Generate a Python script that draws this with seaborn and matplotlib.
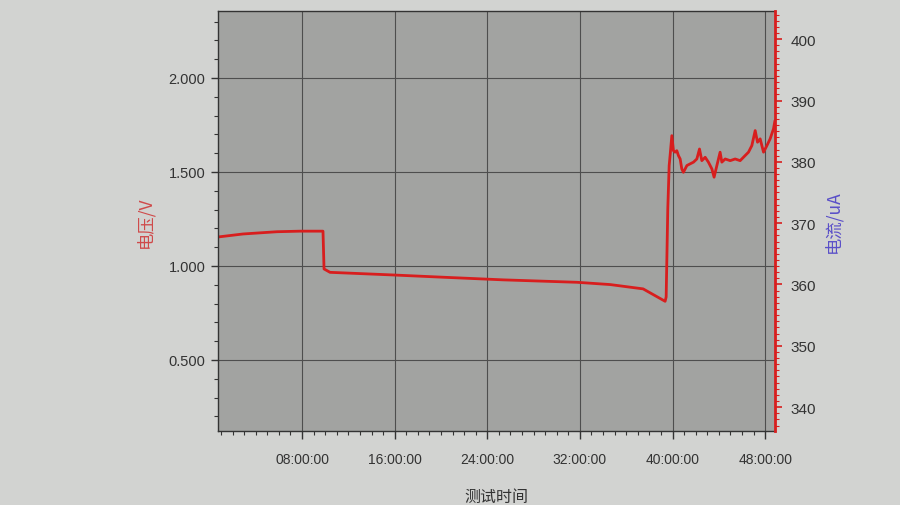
import matplotlib
matplotlib.use("Agg")
import matplotlib.pyplot as plt
from matplotlib.ticker import MultipleLocator, FuncFormatter
import seaborn as sns
import pandas as pd

# ---- data ----
hours = [0.74, 2.90, 5.84, 7.83, 9.81, 9.90, 10.42, 15.86, 20.18, 25.37, 31.76,
         34.61, 37.46, 39.36, 39.45, 39.59, 39.71, 39.79, 39.94, 40.08, 40.22,
         40.37, 40.51, 40.66, 40.80, 40.94, 41.24, 41.52, 41.81, 42.10, 42.33,
         42.53, 42.82, 43.10, 43.40, 43.59, 43.83, 44.11, 44.26, 44.55, 44.98,
         45.41, 45.84, 46.27, 46.56, 46.85, 47.14, 47.34, 47.57, 47.86, 48.15,
         48.43, 48.72, 48.85]
voltage = [1.154, 1.170, 1.182, 1.185, 1.185, 0.984, 0.966, 0.952, 0.940, 0.926, 0.913,
           0.901, 0.878, 0.812, 0.835, 1.303, 1.534, 1.587, 1.693, 1.613, 1.605,
           1.613, 1.587, 1.569, 1.516, 1.498, 1.534, 1.543, 1.552, 1.569, 1.622,
           1.560, 1.578, 1.552, 1.516, 1.472, 1.534, 1.605, 1.552, 1.569, 1.560,
           1.569, 1.560, 1.587, 1.605, 1.640, 1.720, 1.658, 1.676, 1.605, 1.640,
           1.676, 1.729, 1.773]
x_ticks = [8, 16, 24, 32, 40, 48]
left_ticks = [0.5, 1.0, 1.5, 2.0]
right_ticks = [340, 350, 360, 370, 380, 390, 400]

df = pd.DataFrame({"hours": hours, "voltage": voltage})

sns.set_theme(style="ticks")
plt.rcParams["font.family"] = ["Liberation Sans", "Noto Sans CJK SC", "DejaVu Sans"]

fig = plt.figure(figsize=(9, 5.06), dpi=100)
fig.patch.set_facecolor("#d2d3d1")
ax = fig.add_axes([0.2422, 0.1462, 0.6189, 0.8301])
ax.set_facecolor("#a2a3a1")

sns.lineplot(data=df, x="hours", y="voltage", ax=ax, color="#d81e1e", linewidth=2.0,
             estimator=None, sort=False)

ax.set_xlim(0.74, 48.85)
ax.set_ylim(0.122, 2.356)
ax.set_xticks(x_ticks)
ax.xaxis.set_major_formatter(FuncFormatter(lambda v, p: f"{int(round(v)):02d}:00:00"))
ax.xaxis.set_minor_locator(MultipleLocator(1))
ax.set_yticks(left_ticks)
ax.yaxis.set_major_formatter(FuncFormatter(lambda v, p: f"{v:.3f}"))
ax.yaxis.set_minor_locator(MultipleLocator(0.1))
ax.grid(True, which="major", color="#4e4e4e", linewidth=0.8)

ax.tick_params(axis="x", which="major", length=6, width=1, color="#333333",
               labelsize=10, labelcolor="#333333", pad=9)
ax.tick_params(axis="x", which="minor", length=3, width=0.8, color="#333333")
ax.tick_params(axis="y", which="major", length=5, width=1, color="#333333",
               labelsize=10.5, labelcolor="#333333", pad=4)
ax.tick_params(axis="y", which="minor", length=3, width=0.8, color="#333333")

for s in ["left", "bottom", "top"]:
    ax.spines[s].set_color("#333333")
    ax.spines[s].set_linewidth(1.0)
ax.spines["right"].set_visible(False)

ax.set_xlabel("测试时间", family=["Noto Sans CJK SC", "DejaVu Sans"], fontsize=11.5,
              color="#333333", labelpad=16)
ax.set_ylabel("电压/V", family=["Noto Sans CJK SC", "DejaVu Sans"], fontsize=12.5,
              color="#cf4a4a", labelpad=10)

ax2 = ax.twinx()
ax2.set_ylim(336.1, 404.6)
ax2.set_yticks(right_ticks)
ax2.yaxis.set_minor_locator(MultipleLocator(1))
ax2.tick_params(axis="y", which="major", length=5, width=1.2, color="#d81e1e",
                labelsize=11, labelcolor="#333333", pad=6)
ax2.tick_params(axis="y", which="minor", length=3, width=0.8, color="#d81e1e")
for s in ["left", "bottom", "top"]:
    ax2.spines[s].set_visible(False)
ax2.spines["right"].set_color("#d81e1e")
ax2.spines["right"].set_linewidth(2.0)
ax2.set_ylabel("电流/uA", family=["Noto Sans CJK SC", "DejaVu Sans"], fontsize=12.5,
               color="#5a4fc8", labelpad=6)
ax2.grid(False)

fig.savefig("out.png", dpi=100, facecolor=fig.get_facecolor())
